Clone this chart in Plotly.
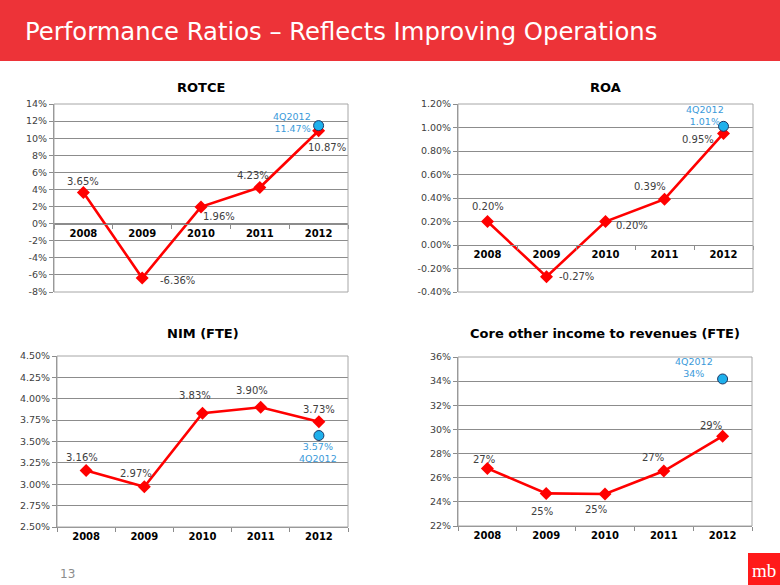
import plotly.graph_objects as go

# ---------------- data ----------------
years = ["2008", "2009", "2010", "2011", "2012"]

rotce = [3.65, -6.36, 1.96, 4.23, 10.87]
rotce_labels = ["3.65%", "-6.36%", "1.96%", "4.23%", "10.87%"]
rotce_q = 11.47
rotce_q_label = "4Q2012<br>11.47%"

roa = [0.20, -0.27, 0.20, 0.39, 0.95]
roa_labels = ["0.20%", "-0.27%", "0.20%", "0.39%", "0.95%"]
roa_q = 1.01
roa_q_label = "4Q2012<br>1.01%"

nim = [3.16, 2.97, 3.83, 3.90, 3.73]
nim_labels = ["3.16%", "2.97%", "3.83%", "3.90%", "3.73%"]
nim_q = 3.57
nim_q_label = "3.57%<br>4Q2012"

core = [26.77, 24.70, 24.65, 26.55, 29.44]
core_labels = ["27%", "25%", "25%", "27%", "29%"]
core_q = 34.18
core_q_label = "4Q2012<br>34%"

rotce_ticks = [-8, -6, -4, -2, 0, 2, 4, 6, 8, 10, 12, 14]
roa_ticks = [-0.40, -0.20, 0.00, 0.20, 0.40, 0.60, 0.80, 1.00, 1.20]
nim_ticks = [2.50, 2.75, 3.00, 3.25, 3.50, 3.75, 4.00, 4.25, 4.50]
core_ticks = [22, 24, 26, 28, 30, 32, 34, 36]

# ---------------- styling ----------------
W, H = 780, 585
RED = "#FF0000"
BLUE_FILL = "#1EB0EC"
BLUE_TXT = "#3A9ADA"
GRID = "#8C8C8C"
BORDER = "#A6A6A6"
TXT = "#404040"
FONT = "DejaVu Sans"


def px_dom_x(l, r):
    return [l / W, r / W]


def px_dom_y(top, bottom):
    return [1 - bottom / H, 1 - top / H]


panels = [
    dict(title="ROTCE", vals=rotce, labels=rotce_labels, q=rotce_q, qlab=rotce_q_label,
         ticks=rotce_ticks, fmt="{:.0f}%", xd=px_dom_x(54, 348), yd=px_dom_y(104, 292),
         axis_at_zero=True,
         offs=[(0, 11), (35, -3), (18, -10), (-7, 12), (8, -17)],
         qoff=(-6, 3, "right"), title_y=87),
    dict(title="ROA", vals=roa, labels=roa_labels, q=roa_q, qlab=roa_q_label,
         ticks=roa_ticks, fmt="{:.2f}%", xd=px_dom_x(458, 753), yd=px_dom_y(104, 292),
         axis_at_zero=True,
         offs=[(0, 15), (30, 0), (26, -4), (-15, 13), (-26, -6)],
         qoff=(-19, 11, "center"), title_y=87),
    dict(title="NIM (FTE)", vals=nim, labels=nim_labels, q=nim_q, qlab=nim_q_label,
         ticks=nim_ticks, fmt="{:.2f}%", xd=px_dom_x(57, 348), yd=px_dom_y(356, 527),
         axis_at_zero=False,
         offs=[(-4, 13), (-8, 13), (-8, 18), (-9, 17), (0, 12)],
         qoff=(-1, -17, "center"), title_y=333),
    dict(title="Core other income to revenues (FTE)", vals=core, labels=core_labels, q=core_q,
         qlab=core_q_label, ticks=core_ticks, fmt="{:.0f}%", xd=px_dom_x(458, 752),
         yd=px_dom_y(357, 526), axis_at_zero=False,
         offs=[(-3, 9), (-4, -18), (-9, -15), (-11, 14), (-12, 11)],
         qoff=(-29, 11, "center"), title_y=333),
]

fig = go.Figure()
shapes = []
annotations = []

# title bar
shapes.append(dict(type="rect", xref="paper", yref="paper", x0=0, x1=1, y0=1 - 61 / H, y1=1,
                   fillcolor="#ED3338", line=dict(width=0), layer="below"))
annotations.append(dict(text="Performance Ratios \u2013 Reflects Improving Operations",
                        xref="paper", yref="paper", x=23 / W, y=1 - 31 / H,
                        xanchor="left", yanchor="middle", showarrow=False,
                        font=dict(family=FONT, size=24.3, color="white")))

for i, p in enumerate(panels):
    n = i + 1
    xa = "x" if n == 1 else f"x{n}"
    ya = "y" if n == 1 else f"y{n}"
    xkey = "xaxis" if n == 1 else f"xaxis{n}"
    ykey = "yaxis" if n == 1 else f"yaxis{n}"

    ymin, ymax = p["ticks"][0], p["ticks"][-1]

    fig.add_trace(go.Scatter(x=years, y=p["vals"], mode="lines+markers",
                             line=dict(color=RED, width=2.6),
                             marker=dict(symbol="diamond", size=10, color=RED),
                             xaxis=xa, yaxis=ya, showlegend=False, hoverinfo="skip"))
    fig.add_trace(go.Scatter(x=[years[-1]], y=[p["q"]], mode="markers",
                             marker=dict(symbol="circle", size=10, color=BLUE_FILL,
                                         line=dict(color="#1F3864", width=1)),
                             xaxis=xa, yaxis=ya, showlegend=False, hoverinfo="skip"))

    if p["axis_at_zero"]:
        pos = p["yd"][0] + (0 - ymin) / (ymax - ymin) * (p["yd"][1] - p["yd"][0])
        xaxis_cfg = dict(anchor="free", position=pos)
    else:
        xaxis_cfg = dict(anchor=ya)

    fig.update_layout({
        xkey: dict(domain=p["xd"], type="category", range=[-0.5, 4.5],
                   showline=True, linecolor=GRID, linewidth=1, automargin=False,
                   ticks="outside", ticklen=4, tickcolor=GRID, tickson="boundaries",
                   showgrid=False, zeroline=False, fixedrange=True,
                   tickfont=dict(family=FONT, size=10, color="black", weight="bold"),
                   **xaxis_cfg),
        ykey: dict(domain=p["yd"], anchor=xa, range=[ymin, ymax], automargin=False,
                   tickvals=p["ticks"], ticktext=[p["fmt"].format(t) for t in p["ticks"]],
                   showline=True, linecolor=GRID, linewidth=1,
                   ticks="outside", ticklen=4, tickcolor=GRID,
                   showgrid=True, gridcolor=GRID, gridwidth=1, zeroline=False,
                   tickfont=dict(family=FONT, size=9.5, color=TXT), fixedrange=True),
    })

    # plot-area border
    shapes.append(dict(type="rect", xref=f"{xa} domain", yref=f"{ya} domain",
                       x0=0, x1=1, y0=0, y1=1, line=dict(color=BORDER, width=1),
                       fillcolor="rgba(0,0,0,0)", layer="above"))

    # panel title
    annotations.append(dict(text=f"<b>{p['title']}</b>", xref="paper", yref="paper",
                            x=(p["xd"][0] + p["xd"][1]) / 2, y=1 - p["title_y"] / H,
                            xanchor="center", yanchor="middle", showarrow=False,
                            font=dict(family=FONT, size=13, color="black")))

    # data labels (category index used as annotation x position)
    for j, (v, lab, (dx, dy)) in enumerate(zip(p["vals"], p["labels"], p["offs"])):
        annotations.append(dict(text=lab, x=j, y=v, xref=xa, yref=ya, showarrow=False,
                                xshift=dx, yshift=dy, xanchor="center", yanchor="middle",
                                font=dict(family=FONT, size=10, color=TXT)))
    qdx, qdy, qanchor = p["qoff"]
    annotations.append(dict(text=p["qlab"], x=len(years) - 1, y=p["q"], xref=xa, yref=ya,
                            showarrow=False, xshift=qdx, yshift=qdy, xanchor=qanchor,
                            yanchor="middle", align=qanchor,
                            font=dict(family=FONT, size=9.5, color=BLUE_TXT)))

# page number
annotations.append(dict(text="13", xref="paper", yref="paper", x=67 / W, y=1 - 574 / H,
                        xanchor="center", yanchor="middle", showarrow=False,
                        font=dict(family=FONT, size=12, color="#8C8C8C")))
# logo
shapes.append(dict(type="rect", xref="paper", yref="paper", x0=748 / W, x1=1,
                   y0=0, y1=32 / H, fillcolor="#FF1A1A", line=dict(width=0)))
annotations.append(dict(text="mb", xref="paper", yref="paper", x=764 / W, y=15 / H,
                        xanchor="center", yanchor="middle", showarrow=False,
                        font=dict(family="Liberation Serif", size=19, color="white")))

fig.update_layout(template="none", width=W, height=H, autosize=False,
                  margin=dict(l=0, r=0, t=0, b=0, pad=0, autoexpand=False),
                  paper_bgcolor="white", plot_bgcolor="white",
                  shapes=shapes, annotations=annotations)

post = ("document.documentElement.style.margin='0';document.documentElement.style.padding='0';"
        "document.documentElement.style.overflow='hidden';"
        "document.body.style.margin='0';document.body.style.padding='0';"
        "document.body.style.overflow='hidden';"
        "var d=document.getElementById('{plot_id}');"
        "d.style.position='fixed';d.style.left='0px';d.style.top='0px';")
fig.write_html("out.html", post_script=post,
               config={"displayModeBar": False, "staticPlot": True})
